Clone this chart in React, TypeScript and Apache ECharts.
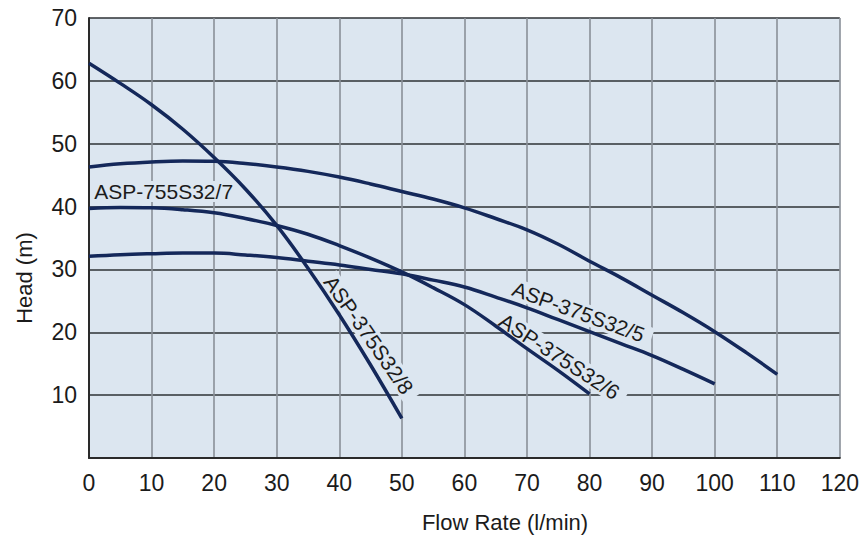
import React, { useEffect, useRef } from "react";
import * as echarts from "echarts";

// ---- data ----
const xTicks = [0, 10, 20, 30, 40, 50, 60, 70, 80, 90, 100, 110, 120];
const yTicks = [0, 10, 20, 30, 40, 50, 60, 70];

const flow8 = [0, 5, 10, 15, 20, 25, 30, 35, 40, 45, 50];
const head8 = [62.8, 59.6, 56.2, 52.3, 47.8, 42.8, 37.0, 30.2, 22.8, 14.8, 6.3];

const flow7 = [0, 5, 10, 15, 20, 25, 30, 35, 40, 45, 50, 55, 60, 65, 70, 75, 80, 85, 90, 95, 100, 105, 110];
const head7 = [46.3, 46.8, 47.1, 47.25, 47.2, 46.85, 46.3, 45.6, 44.7, 43.6, 42.4, 41.2, 39.8, 38.1, 36.3, 34.0, 31.3, 28.7, 25.9, 23.1, 20.1, 16.8, 13.3];

const flow6 = [0, 5, 10, 15, 20, 25, 30, 35, 40, 45, 50, 55, 60, 65, 70, 75, 80];
const head6 = [39.7, 39.85, 39.8, 39.5, 39.0, 38.1, 37.0, 35.6, 33.8, 31.8, 29.6, 27.1, 24.4, 21.0, 17.4, 13.9, 10.2];

const flow5 = [0, 5, 10, 15, 20, 25, 30, 35, 40, 45, 50, 55, 60, 65, 70, 75, 80, 85, 90, 95, 100];
const head5 = [32.1, 32.35, 32.5, 32.6, 32.6, 32.3, 31.9, 31.3, 30.7, 30.0, 29.3, 28.3, 27.2, 25.6, 23.9, 22.0, 20.1, 18.2, 16.3, 14.1, 11.8];

const seriesNames = ["ASP-375S32/8", "ASP-755S32/7", "ASP-375S32/6", "ASP-375S32/5"];

const xTitle = "Flow Rate (l/min)";
const yTitle = "Head (m)";

const FONT = "'Liberation Sans', Arial, Helvetica, sans-serif";
const INK = "#1b1b1b";
const CURVE = "#14285a";
const BG = "#dce6f0";

const pairs = (xs: number[], ys: number[]) => xs.map((x, i) => [x, ys[i]]);

export default function App() {
  const ref = useRef<HTMLDivElement>(null);

  useEffect(() => {
    document.body.style.margin = "0";
    if (!ref.current) return;
    const chart = echarts.init(ref.current, undefined, { renderer: "svg" });

    const datasets = [
      pairs(flow8, head8),
      pairs(flow7, head7),
      pairs(flow6, head6),
      pairs(flow5, head5),
    ];

    chart.setOption({
      animation: false,
      grid: {
        left: 89,
        right: 20,
        top: 18,
        bottom: 81,
        show: true,
        backgroundColor: BG,
        borderWidth: 0,
      },
      xAxis: {
        type: "value",
        min: xTicks[0],
        max: xTicks[xTicks.length - 1],
        interval: 10,
        axisLine: { show: true, onZero: false, lineStyle: { color: "#2a2a2a", width: 2 } },
        axisTick: { show: false },
        axisLabel: { color: INK, fontSize: 23, fontFamily: FONT, margin: 13 },
        splitLine: { show: true, lineStyle: { color: "#8a9098", width: 1.6 } },
      },
      yAxis: {
        type: "value",
        min: yTicks[0],
        max: yTicks[yTicks.length - 1],
        interval: 10,
        axisLine: { show: true, lineStyle: { color: "#2a2a2a", width: 2 } },
        axisTick: { show: false },
        axisLabel: {
          color: INK,
          fontSize: 23,
          fontFamily: FONT,
          margin: 12,
          formatter: (v: number) => (v === 0 ? "" : String(v)),
        },
        splitLine: { show: true, lineStyle: { color: "#2e3236", width: 1.6 } },
      },
      series: datasets.map((d, i) => ({
        name: seriesNames[i],
        type: "line",
        data: d,
        smooth: 0.4,
        showSymbol: false,
        symbol: "none",
        z: 3,
        lineStyle: { color: CURVE, width: 3.5, cap: "butt" },
      })),
    });

    const px = (x: number, y: number) =>
      chart.convertToPixel({ gridIndex: 0 }, [x, y]) as number[];

    const labelDefs = [
      { text: seriesNames[1], at: [0.5, 42.4], rot: 0, align: "left" },
      { text: seriesNames[0], at: [45.0, 19.2], rot: -55, align: "center" },
      { text: seriesNames[3], at: [78.7, 23.1], rot: -20, align: "center" },
      { text: seriesNames[2], at: [75.6, 15.9], rot: -33, align: "center" },
    ];

    const labels = labelDefs.map((l) => {
      const p = px(l.at[0], l.at[1]);
      return {
        type: "text",
        x: p[0],
        y: p[1],
        rotation: (l.rot * Math.PI) / 180,
        z: 2,
        style: {
          text: l.text,
          fill: INK,
          fontSize: 21,
          fontFamily: FONT,
          align: l.align,
          verticalAlign: "middle",
          backgroundColor: BG,
          padding: [0, 8, 0, 2],
        },
      };
    });

    chart.setOption({
      graphic: [
        ...labels,
        {
          type: "text",
          x: 505,
          y: 522,
          style: {
            text: xTitle,
            fill: INK,
            fontSize: 22,
            fontFamily: FONT,
            align: "center",
            verticalAlign: "middle",
          },
        },
        {
          type: "text",
          x: 24,
          y: 278,
          rotation: Math.PI / 2,
          style: {
            text: yTitle,
            fill: INK,
            fontSize: 22,
            fontFamily: FONT,
            align: "center",
            verticalAlign: "middle",
          },
        },
      ],
    });

    return () => chart.dispose();
  }, []);

  return <div ref={ref} style={{ width: 862, height: 539 }} />;
}
